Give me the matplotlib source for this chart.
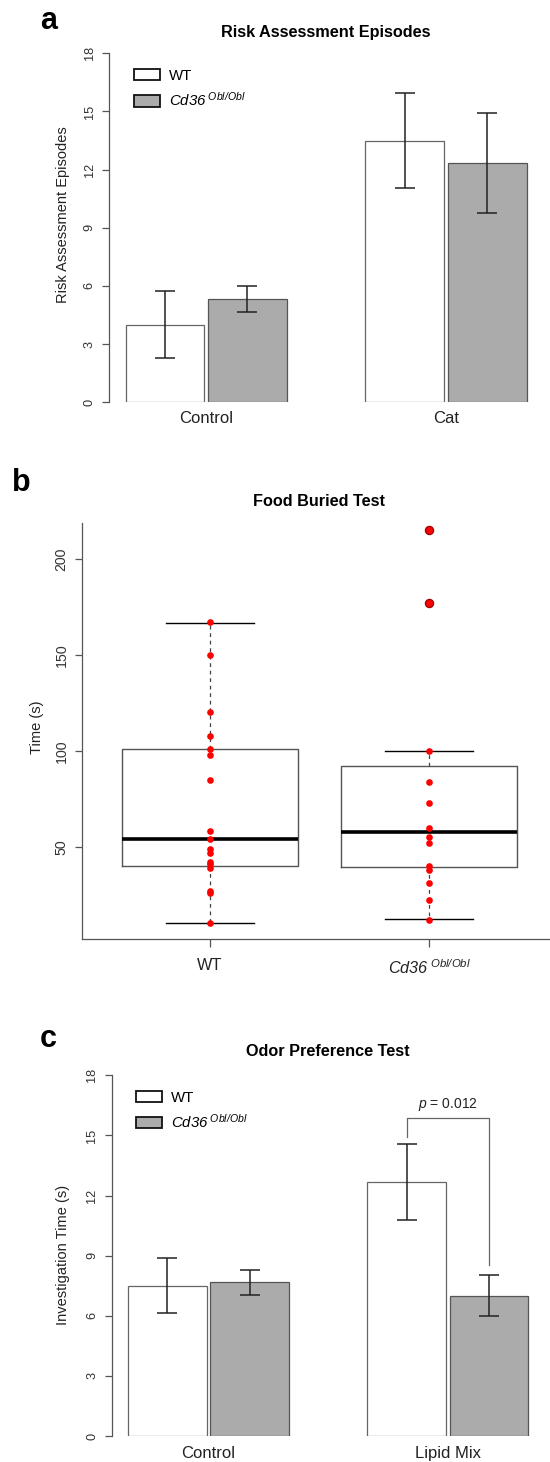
import matplotlib
matplotlib.use("Agg")
import matplotlib.pyplot as plt
from matplotlib.patches import Patch
import numpy as np

plt.rcParams['font.family'] = ['Liberation Sans', 'DejaVu Sans']
plt.rcParams['mathtext.fontset'] = 'custom'
plt.rcParams['mathtext.rm'] = 'Liberation Sans'
plt.rcParams['mathtext.it'] = 'Liberation Sans:italic'
plt.rcParams['mathtext.sf'] = 'Liberation Sans:italic'
plt.rcParams['mathtext.bf'] = 'Liberation Sans:bold'

# ---------------- data ----------------
# panel a
risk_groups = ["Control", "Cat"]
risk_wt = [4.0, 13.5]
risk_wt_err = [1.72, 2.47]
risk_ko = [5.33, 12.32]
risk_ko_err = [0.67, 2.58]

# panel b
food_labels = ["WT", r"$\mathsf{Cd36}^{\ \mathsf{Obl/Obl}}$"]
food_wt_points = [167, 150, 120, 108, 101, 98, 85, 58, 54, 49, 47, 42, 41, 39, 27, 26, 10]
food_ko_points = [215, 177, 100, 84, 73, 60, 55, 52, 40, 38, 31, 22, 12]
food_q1 = [39.9, 39.2]
food_med = [54.0, 57.7]
food_q3 = [100.9, 92.1]
food_whislo = [10.0, 12.1]
food_whishi = [166.8, 100.0]
food_fliers = [[], [177, 215]]

# panel c
odor_groups = ["Control", "Lipid Mix"]
odor_wt = [7.5, 12.66]
odor_wt_err = [1.37, 1.89]
odor_ko = [7.67, 7.0]
odor_ko_err = [0.63, 1.02]
p_text = r"$p$ = 0.012"

legend_labels = ["WT", r"$\mathsf{Cd36}^{\ \mathsf{Obl/Obl}}$"]

# ---------------- figure ----------------
W, H = 550, 1462
fig = plt.figure(figsize=(W / 100, H / 100), dpi=100)
fig.patch.set_facecolor('white')


def add_ax(l, t, r, b):
    return fig.add_axes([l / W, 1 - b / H, (r - l) / W, (b - t) / H])


GRAY = '#ababab'
EDGE = '#555555'
AX = '#555555'
TXT = '#222222'
bw = 0.329
off = 0.172


def bar_panel(ax, groups, wt, wte, ko, koe, ylab, title, letter, xl,
              ylab_xy, title_xy, letter_xy, labpad, leg_xy):
    x = np.arange(len(groups))
    ax.bar(x - off, wt, bw, color='white', edgecolor='#666666', linewidth=0.9, zorder=2)
    ax.bar(x + off, ko, bw, color=GRAY, edgecolor=EDGE, linewidth=0.9, zorder=2)
    ax.errorbar(x - off, wt, yerr=wte, fmt='none', ecolor=TXT, elinewidth=1.1,
                capsize=7, capthick=1.1, zorder=3)
    ax.errorbar(x + off, ko, yerr=koe, fmt='none', ecolor=TXT, elinewidth=1.1,
                capsize=7, capthick=1.1, zorder=3)
    ax.set_xlim(*xl)
    ax.set_ylim(0, 18)
    ax.set_yticks(np.arange(0, 19, 3))
    for s in ['top', 'right', 'bottom']:
        ax.spines[s].set_visible(False)
    ax.spines['left'].set_color(AX)
    ax.spines['left'].set_linewidth(0.9)
    ax.tick_params(axis='y', length=5, width=0.9, color=AX, labelsize=9.2, pad=5,
                   labelrotation=90, labelcolor='#333333')
    for t in ax.get_yticklabels():
        t.set_va('center')
    ax.set_xticks(x, groups)
    ax.tick_params(axis='x', length=0, labelsize=12, pad=labpad, labelcolor=TXT)
    fig.text(ylab_xy[0] / W, 1 - ylab_xy[1] / H, ylab, rotation=90, ha='center', va='center',
             fontsize=10.5, color=TXT)
    fig.text(title_xy[0] / W, 1 - title_xy[1] / H, title, ha='center', va='center',
             fontsize=11.7, fontweight='bold')
    fig.text(letter_xy[0] / W, 1 - letter_xy[1] / H, letter, ha='center', va='center',
             fontsize=22, fontweight='bold')
    ax.legend([Patch(facecolor='white', edgecolor='#111111', linewidth=1.3),
               Patch(facecolor=GRAY, edgecolor='#111111', linewidth=1.3)],
              legend_labels, loc='upper left', frameon=False, fontsize=10.8,
              handlelength=1.71, handleheight=0.78, handletextpad=0.62,
              labelspacing=0.55, borderpad=0, borderaxespad=0,
              bbox_to_anchor=(leg_xy[0] / W, 1 - leg_xy[1] / H),
              bbox_transform=fig.transFigure)
    return ax


# panel a
ax_a = add_ax(109.4, 53.3, 540, 402.3)
bar_panel(ax_a, risk_groups, risk_wt, risk_wt_err, risk_ko, risk_ko_err,
          "Risk Assessment Episodes", "Risk Assessment Episodes", "a", (-0.404, 1.392),
          (63, 214.5), (326, 33), (49, 21), 6, (134, 69))

# panel c
ax_c = add_ax(112.2, 1075.3, 540, 1436)
bar_panel(ax_c, odor_groups, odor_wt, odor_wt_err, odor_ko, odor_ko_err,
          "Investigation Time (s)", "Odor Preference Test", "c", (-0.402, 1.385),
          (63, 1255), (328, 1051), (48, 1039), 7.5, (136, 1090.5))

# significance bracket in panel c
xw = 1 - off
xk = 1 + off
y_top = 15.85
ax_c.plot([xw, xw, xk, xk],
          [odor_wt[1] + odor_wt_err[1] + 0.35, y_top, y_top, odor_ko[1] + odor_ko_err[1] + 0.5],
          color='#666666', linewidth=0.9, zorder=3)
ax_c.text(1.0, 16.55, p_text, ha='center', va='center', fontsize=10, color=TXT)

# panel b
ax_b = add_ax(82.4, 523, 550, 939)
stats = []
for i in range(2):
    stats.append(dict(med=food_med[i], q1=food_q1[i], q3=food_q3[i],
                      whislo=food_whislo[i], whishi=food_whishi[i], fliers=food_fliers[i]))
ax_b.bxp(stats, positions=[1, 2], widths=0.8, capwidths=0.4, showfliers=True,
         boxprops=dict(color=EDGE, linewidth=1.0),
         medianprops=dict(color='black', linewidth=2.6),
         whiskerprops=dict(color='#444444', linewidth=0.9, linestyle=(0, (3, 3))),
         capprops=dict(color='black', linewidth=1.0),
         flierprops=dict(marker='o', markerfacecolor='#c00000', markeredgecolor='#a00000',
                         markersize=5.8, linestyle='none'))
for i, pts in enumerate([food_wt_points, food_ko_points]):
    ax_b.plot(np.full(len(pts), i + 1), pts, 'o', color='#ff0000', markersize=4.8,
              markeredgewidth=0, zorder=4)
ax_b.set_xlim(0.420, 2.55)
ax_b.set_ylim(1.9, 218.8)
ax_b.set_yticks([50, 100, 150, 200])
ax_b.set_xticks([1, 2], food_labels)
for s in ['top', 'right']:
    ax_b.spines[s].set_visible(False)
for s in ['left', 'bottom']:
    ax_b.spines[s].set_color(AX)
    ax_b.spines[s].set_linewidth(0.9)
ax_b.tick_params(axis='y', length=5, width=0.9, color=AX, labelsize=10.2, pad=5,
                 labelrotation=90, labelcolor='#333333')
for t in ax_b.get_yticklabels():
    t.set_va('center')
ax_b.tick_params(axis='x', length=6, width=0.9, color=AX, labelsize=11.7, pad=8,
                 labelcolor=TXT)
fig.text(37 / W, 1 - 727 / H, "Time (s)", rotation=90, ha='center', va='center',
         fontsize=10.5, color=TXT)
fig.text(319 / W, 1 - 501 / H, "Food Buried Test", ha='center', va='center',
         fontsize=11.7, fontweight='bold')
fig.text(21.5 / W, 1 - 483 / H, "b", ha='center', va='center', fontsize=22, fontweight='bold')

fig.savefig("out.png", dpi=100)
